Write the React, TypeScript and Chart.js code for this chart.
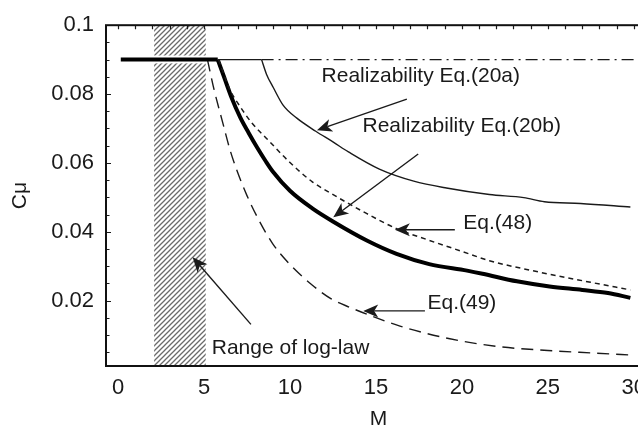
import React, { useEffect, useRef } from "react";
import { Chart, registerables } from "chart.js";

Chart.register(...registerables);

// ---- axis ticks ----
const xTickValues = [0, 5, 10, 15, 20, 25, 30];
const yTickValues = [0.02, 0.04, 0.06, 0.08, 0.1];
const xRange = [-0.7, 31];
const yRange = [0.001, 0.1];

// ---- plateau pieces at C_mu = 0.09 ----
const plateauThickM = [0.16, 5.8];
const plateauThickC = [0.09, 0.09];
const plateauThinM = [5.8, 8.35];
const plateauThinC = [0.09, 0.09];
const eq20aM = [8.35, 31];
const eq20aC = [0.09, 0.09];

// ---- Realizability Eq.(20b) (thin solid) ----
const eq20bM = [8.35, 8.64, 9.03, 9.61, 10.4, 11.5, 12.5, 13.4, 15.2, 17.2, 19.1, 21.6, 23.6, 24.8, 26.9, 29.8];
const eq20bC = [0.09, 0.0857, 0.0819, 0.0767, 0.073, 0.0692, 0.0661, 0.0632, 0.0582, 0.0547, 0.0527, 0.0508, 0.0499, 0.0487, 0.0482, 0.0472];

// ---- thick solid curve ----
const thickM = [5.8, 6.2, 6.6, 7.1, 7.6, 8.1, 8.6, 9.0, 10.0, 11.3, 12.5, 14.5, 16.2, 18.1, 20.3, 21.2, 23.2, 25.1, 27.0, 28.5, 29.8];
const thickC = [0.09, 0.0845, 0.079, 0.0733, 0.0687, 0.0644, 0.0604, 0.0575, 0.0519, 0.0468, 0.043, 0.0374, 0.0336, 0.0306, 0.0287, 0.0278, 0.0256, 0.0241, 0.0231, 0.0222, 0.0208];

// ---- Eq.(48) (short dashes) ----
const eq48M = [5.85, 6.5, 7.0, 7.8, 8.7, 10.0, 11.3, 12.3, 14.2, 16.2, 18.1, 20.0, 21.6, 24.0, 27.4, 29.8];
const eq48C = [0.09, 0.0813, 0.0771, 0.0715, 0.0668, 0.0601, 0.0545, 0.0514, 0.046, 0.0409, 0.0375, 0.0343, 0.0316, 0.0288, 0.0254, 0.0231];

// ---- Eq.(49) (long dashes) ----
const eq49M = [5.2, 5.6, 6.1, 6.5, 6.9, 7.5, 8.2, 9.0, 10.0, 11.2, 12.4, 13.5, 14.5, 16.4, 19.3, 22.2, 25.0, 27.5, 29.8];
const eq49C = [0.09, 0.081, 0.0715, 0.064, 0.058, 0.0505, 0.0433, 0.0365, 0.0305, 0.0249, 0.0205, 0.018, 0.016, 0.0126, 0.0089, 0.0066, 0.0055, 0.0048, 0.0042];

// ---- hatched "range of log-law" band ----
const hatchM = [2.1, 5.1];
const hatchBandsC = [[0.0912, 0.1], [0.001, 0.0889]];

// ---- annotations ----
const labelTexts = ["Realizability Eq.(20a)", "Realizability Eq.(20b)", "Eq.(48)", "Eq.(49)", "Range of log-law"];
const labelM = [11.84, 14.22, 20.08, 18.0, 5.45];
const labelC = [0.0853, 0.0707, 0.0425, 0.0191, 0.0063];
const arrowFromM = [16.8, 17.46, 19.59, 17.85, 7.73];
const arrowFromC = [0.0785, 0.0626, 0.0406, 0.017, 0.0131];
const arrowToM = [11.57, 12.52, 16.1, 14.26, 4.34];
const arrowToC = [0.0695, 0.0442, 0.0406, 0.017, 0.0326];

const FONT = "'Liberation Sans', Arial, Helvetica, sans-serif";
const INK = "#1a1a1a";

const zip = (xs: number[], ys: number[]) => xs.map((x, i) => ({ x, y: ys[i] }));

function makePattern(ctx: CanvasRenderingContext2D) {
  const s = 5;
  const c = document.createElement("canvas");
  c.width = s;
  c.height = s;
  const g = c.getContext("2d")!;
  g.fillStyle = "#ffffff";
  g.fillRect(0, 0, s, s);
  g.strokeStyle = "#6a6a6a";
  g.lineWidth = 1.3;
  g.beginPath();
  g.moveTo(0, s);
  g.lineTo(s, 0);
  g.moveTo(-1, 1);
  g.lineTo(1, -1);
  g.moveTo(s - 1, s + 1);
  g.lineTo(s + 1, s - 1);
  g.stroke();
  return ctx.createPattern(c, "repeat")!;
}

function drawArrow(ctx: CanvasRenderingContext2D, x1: number, y1: number, x2: number, y2: number) {
  const ang = Math.atan2(y2 - y1, x2 - x1);
  const L = 15, W = 6.5, notch = 4;
  ctx.beginPath();
  ctx.moveTo(x1, y1);
  ctx.lineTo(x2 - Math.cos(ang) * (L - notch), y2 - Math.sin(ang) * (L - notch));
  ctx.stroke();
  ctx.save();
  ctx.translate(x2, y2);
  ctx.rotate(ang);
  ctx.beginPath();
  ctx.moveTo(0, 0);
  ctx.lineTo(-L, -W);
  ctx.lineTo(-L + notch, 0);
  ctx.lineTo(-L, W);
  ctx.closePath();
  ctx.fill();
  ctx.restore();
}

const paperPlugin = {
  id: "paper",
  beforeDatasetsDraw(chart: any) {
    const { ctx, chartArea: a, scales } = chart;
    const x = scales.x, y = scales.y;
    ctx.save();
    ctx.beginPath();
    ctx.rect(a.left, a.top, a.right - a.left, a.bottom - a.top);
    ctx.clip();
    ctx.fillStyle = makePattern(ctx);
    const x0 = x.getPixelForValue(hatchM[0]);
    const x1 = x.getPixelForValue(hatchM[1]);
    hatchBandsC.forEach(([lo, hi]) => {
      const yt = y.getPixelForValue(hi);
      const yb = y.getPixelForValue(lo);
      ctx.fillRect(x0, yt, x1 - x0, yb - yt);
    });
    ctx.restore();
  },
  afterDatasetsDraw(chart: any) {
    const { ctx, chartArea: a, scales } = chart;
    const x = scales.x, y = scales.y;
    ctx.save();
    // annotations
    ctx.fillStyle = INK;
    ctx.strokeStyle = INK;
    ctx.lineWidth = 1.4;
    ctx.font = `21px ${FONT}`;
    ctx.textAlign = "left";
    ctx.textBaseline = "middle";
    labelTexts.forEach((t, i) => {
      ctx.fillText(t, x.getPixelForValue(labelM[i]), y.getPixelForValue(labelC[i]));
    });
    arrowFromM.forEach((m, i) => {
      drawArrow(
        ctx,
        x.getPixelForValue(m),
        y.getPixelForValue(arrowFromC[i]),
        x.getPixelForValue(arrowToM[i]),
        y.getPixelForValue(arrowToC[i])
      );
    });
    // minor/major ticks (inward)
    ctx.lineWidth = 1.2;
    ctx.beginPath();
    for (let k = 1; k <= 19; k++) {
      const v = k * 0.005;
      const py = Math.round(y.getPixelForValue(v)) + 0.5;
      const len = k % 4 === 0 ? 5 : 3.5;
      ctx.moveTo(a.left, py);
      ctx.lineTo(a.left + len, py);
    }
    for (let m = 0; m <= 31; m++) {
      const px = Math.round(x.getPixelForValue(m)) + 0.5;
      ctx.moveTo(px, a.top);
      ctx.lineTo(px, a.top + 4);
    }
    ctx.stroke();
    // frame
    ctx.lineWidth = 2;
    ctx.strokeStyle = "#111";
    ctx.strokeRect(a.left, a.top, a.right - a.left, a.bottom - a.top);
    ctx.restore();
  },
};

export default function App() {
  const ref = useRef<HTMLCanvasElement>(null);
  useEffect(() => {
    if (!ref.current) return;
    const base = { pointRadius: 0, fill: false, cubicInterpolationMode: "monotone" as const, borderColor: INK };
    const chart = new Chart(ref.current, {
      type: "line",
      data: {
        datasets: [
          { ...base, label: "plateau", data: zip(plateauThickM, plateauThickC), borderWidth: 4, borderColor: "#000" },
          { ...base, label: "plateau thin", data: zip(plateauThinM, plateauThinC), borderWidth: 1.4 },
          { ...base, label: "Realizability Eq.(20a)", data: zip(eq20aM, eq20aC), borderWidth: 1.4, borderDash: [12, 5, 2, 5] },
          { ...base, label: "Realizability Eq.(20b)", data: zip(eq20bM, eq20bC), borderWidth: 1.4 },
          { ...base, label: "Eq.(48)", data: zip(eq48M, eq48C), borderWidth: 1.5, borderDash: [5, 4] },
          { ...base, label: "Eq.(49)", data: zip(eq49M, eq49C), borderWidth: 1.4, borderDash: [12, 7] },
          { ...base, label: "present", data: zip(thickM, thickC), borderWidth: 4, borderColor: "#000" },
        ],
      },
      options: {
        responsive: false,
        animation: false,
        layout: { padding: { top: 16, right: 9, bottom: 0, left: 0 } },
        plugins: { legend: { display: false }, tooltip: { enabled: false } },
        scales: {
          x: {
            type: "linear",
            min: xRange[0],
            max: xRange[1],
            afterBuildTicks: (s: any) => {
              s.ticks = xTickValues.map((v) => ({ value: v }));
            },
            afterFit: (s: any) => {
              s.height = 66;
            },
            grid: { display: false, drawTicks: false },
            border: { display: false },
            ticks: {
              padding: 9,
              color: INK,
              font: { family: FONT, size: 22 },
              maxRotation: 0,
              callback: (v: any) => String(v),
            },
            title: { display: true, text: "M", color: INK, font: { family: FONT, size: 21 }, padding: { top: 0, bottom: 0 } },
          },
          y: {
            type: "linear",
            min: yRange[0],
            max: yRange[1],
            afterBuildTicks: (s: any) => {
              s.ticks = yTickValues.map((v) => ({ value: v }));
            },
            afterFit: (s: any) => {
              s.width = 106;
            },
            grid: { display: false, drawTicks: false },
            border: { display: false },
            ticks: {
              padding: 12,
              color: INK,
              font: { family: FONT, size: 22 },
              callback: (v: any) => String(v),
            },
            title: { display: true, text: "Cμ", color: INK, font: { family: FONT, size: 21 }, padding: { top: 8, bottom: 0 } },
          },
        },
      },
      plugins: [paperPlugin],
    });
    return () => chart.destroy();
  }, []);
  return (
    <div style={{ position: "fixed", left: 0, top: 0, width: 638, height: 432, overflow: "hidden", background: "#fff" }}>
      <canvas ref={ref} width={660} height={432} style={{ display: "block" }} />
    </div>
  );
}
